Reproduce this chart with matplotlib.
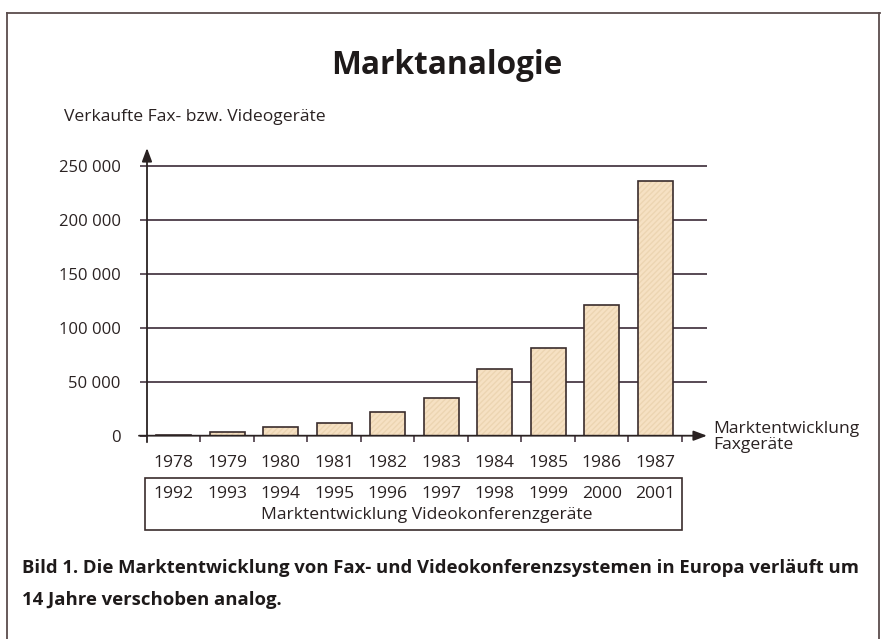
import matplotlib
matplotlib.use('Agg')
import matplotlib.pyplot as plt
from matplotlib.patches import Rectangle
from matplotlib.lines import Line2D
from matplotlib import transforms

fax_years = ['1978', '1979', '1980', '1981', '1982', '1983', '1984', '1985', '1986', '1987']
video_years = ['1992', '1993', '1994', '1995', '1996', '1997', '1998', '1999', '2000', '2001']
units_sold = [1000, 3700, 7800, 12000, 22000, 35000, 61500, 81000, 121000, 236000]
y_ticks = [0, 50000, 100000, 150000, 200000, 250000]

W, H = 882, 639
plt.rcParams['font.family'] = ['Open Sans', 'DejaVu Sans']
text_col = '#2a2222'
line_col = '#4a3a46'
fs = 12.6


def fx(x):
    return x / W


def fy(y):
    return 1 - y / H


fig = plt.figure(figsize=(W / 100, H / 100), dpi=100)

# outer frame
for xs, ys in [([7, 880], [13, 13]), ([7, 7], [13, 639]), ([879, 879], [13, 639])]:
    fig.add_artist(Line2D([fx(v) for v in xs], [fy(v) for v in ys], color='#5a4c4c', lw=1.3))

fig.text(fx(447), fy(65), 'Marktanalogie', ha='center', va='center',
         fontsize=22.8, fontweight='bold', color='#1e1a1a')
fig.text(fx(64), fy(117), 'Verkaufte Fax- bzw. Videogeräte', ha='left', va='center',
         fontsize=fs, color=text_col)

# axes: x from 147 to 707 px, y from 435.7 (0) up to 148 (arrow tip)
ax = fig.add_axes([fx(147), fy(435.7), fx(707) - fx(147), fy(148) - fy(435.7)])
ymax = (435.7 - 148) * 250000 / 270
ax.set_xlim(-0.5, 9.97)
ax.set_ylim(0, ymax)
for s in ax.spines.values():
    s.set_visible(False)
ax.patch.set_alpha(0)

for v in y_ticks[1:]:
    ax.plot([-0.5, 9.97], [v, v], color=line_col, lw=1.3, zorder=1)

pos = list(range(len(units_sold)))
ax.bar(pos, units_sold, width=0.65, color='#f6e1c3', edgecolor='#ecd5b2',
       linewidth=0, hatch='//////', zorder=2)
ax.bar(pos, units_sold, width=0.65, color='none', edgecolor='#3a2c2c',
       linewidth=1.2, zorder=3)

# axis lines with arrows
ax.annotate('', xy=(-0.5, ymax), xytext=(-0.5, -6000), xycoords='data',
            arrowprops=dict(arrowstyle='-|>,head_length=0.8,head_width=0.3',
                            color='#2a2222', lw=1.3, shrinkA=0, shrinkB=0),
            annotation_clip=False)
ax.annotate('', xy=(9.97, 0), xytext=(-0.65, 0), xycoords='data',
            arrowprops=dict(arrowstyle='-|>,head_length=0.8,head_width=0.3',
                            color='#2a2222', lw=1.3, shrinkA=0, shrinkB=0),
            annotation_clip=False)

ax.set_yticks(y_ticks)
ax.set_yticklabels([f'{v:,}'.replace(',', ' ') for v in y_ticks])
ax.tick_params(axis='y', direction='out', length=5, width=1.2, color=line_col,
               pad=14, labelsize=12, labelcolor=text_col)
ax.set_xticks([p + 0.5 for p in pos])
ax.set_xticklabels([])
ax.tick_params(axis='x', direction='out', length=4, width=1.2, color=line_col)

xt = transforms.blended_transform_factory(ax.transData, fig.transFigure)
for p, a, b in zip(pos, fax_years, video_years):
    ax.text(p, fy(463), a, transform=xt, ha='center', va='center',
            fontsize=fs, color=text_col)
    ax.text(p, fy(494), b, transform=xt, ha='center', va='center',
            fontsize=fs, color=text_col)

fig.text(fx(713), fy(429), 'Marktentwicklung', ha='left', va='center',
         fontsize=fs, color=text_col)
fig.text(fx(713), fy(445), 'Faxgeräte', ha='left', va='center',
         fontsize=fs, color=text_col)

fig.add_artist(Rectangle((fx(145), fy(530)), fx(682) - fx(145), fy(478) - fy(530),
                         fill=False, edgecolor='#3a2c2c', lw=1.2))
fig.text(fx(427), fy(515), 'Marktentwicklung Videokonferenzgeräte', ha='center',
         va='center', fontsize=fs, color=text_col)

fig.text(fx(22), fy(568), 'Bild 1. Die Marktentwicklung von Fax- und Videokonferenzsystemen '
         'in Europa verläuft um', ha='left', va='center', fontsize=13.3,
         fontweight='bold', color='#1e1a1a')
fig.text(fx(22), fy(600), '14 Jahre verschoben analog.', ha='left', va='center',
         fontsize=13.3, fontweight='bold', color='#1e1a1a')

fig.savefig('out.png', dpi=100)
